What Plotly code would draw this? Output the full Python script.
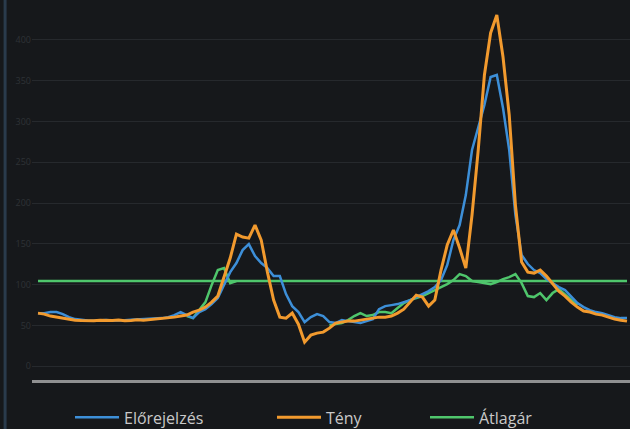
import plotly.graph_objects as go

# quarter-hour slots of the day (96)
slots = list(range(96))

forecast = [65.0, 65.0, 66.3, 66.3, 63.8, 60.1, 57.7, 56.4, 56.0, 55.7,
            56.3, 56.6, 56.0, 55.8, 56.4, 56.9, 57.2, 57.7, 57.7, 57.7,
            58.9, 60.1, 62.6, 66.3, 62.6, 58.9, 66.3, 69.9, 76.1, 83.4,
            99.4, 115.3, 126.4, 142.3, 149.7, 135.0, 126.4, 120.2, 110.4, 110.4,
            88.3, 73.6, 66.3, 54.0, 60.1, 63.8, 61.4, 54.0, 52.8, 56.4,
            55.2, 54.0, 52.8, 55.2, 57.7, 69.9, 73.6, 74.8, 76.1, 78.5,
            81.0, 84.7, 88.3, 92.0, 96.9, 105.5, 123.9, 154.6, 173.0, 209.8,
            265.0, 292.0, 320.2, 354.6, 357.1, 316.6, 265.0, 185.3, 136.2, 125.2,
            117.8, 114.1, 106.7, 101.8, 96.9, 93.3, 84.7, 77.3, 72.4, 68.7,
            66.3, 65.0, 62.6, 60.1, 58.9, 58.9]

actual = [65.0, 63.8, 61.4, 60.1, 58.9, 57.7, 56.4, 56.0, 55.5, 55.8,
          56.2, 55.6, 55.9, 56.5, 55.7, 56.0, 56.8, 56.3, 57.0, 57.4,
          58.0, 58.9, 60.1, 61.4, 62.6, 66.3, 68.7, 72.4, 78.5, 85.9,
          109.2, 132.5, 162.0, 158.3, 157.0, 173.0, 154.6, 115.3, 81.0, 60.1,
          58.9, 65.0, 51.5, 29.4, 38.0, 40.5, 41.7, 46.6, 52.8, 54.0,
          55.2, 55.2, 56.4, 57.7, 58.9, 60.1, 60.1, 61.4, 65.0, 69.9,
          78.5, 87.1, 84.7, 73.6, 81.0, 117.8, 148.5, 166.9, 144.8, 120.2,
          185.3, 265.0, 357.1, 408.6, 430.7, 379.1, 308.0, 197.5, 127.6, 115.3,
          114.1, 117.8, 110.4, 101.8, 92.0, 85.9, 78.5, 72.4, 67.5, 66.3,
          63.8, 62.6, 60.1, 57.7, 56.4, 55.2]

avg_price = 104.3

avg_detail = [None] * 24 + [61.4, 58.9, 68.7, 78.5, 99.4, 117.8, 120.2, 101.8, 104.3] + \
             [None] * 14 + [50.3, 51.5, 52.8, 56.4, 61.4, 65.0, 61.4, 62.6, 66.3, 66.3,
                            65.0, 71.2, 77.3, 81.0, 83.4, 85.9, 89.6, 93.3, 96.9, 100.6,
                            105.5, 112.9, 110.4, 104.3, 103.1, 101.8, 100.6, 103.1, 106.7, 109.2,
                            112.9, 101.8, 85.9, 84.7, 89.6, 81.0, 89.6, 94.5, 88.3, 81.0,
                            74.8] + [None] * 8

y_ticks = [0, 50, 100, 150, 200, 250, 300, 350, 400]

BLUE = "#3d8fd8"
ORANGE = "#f29a2e"
GREEN = "#4fc66c"

fig = go.Figure()
fig.add_trace(go.Scatter(x=slots, y=[avg_price] * len(slots), mode="lines",
                         line=dict(color=GREEN, width=2.5), name="Átlagár",
                         legend="legend3"))
fig.add_trace(go.Scatter(x=slots, y=avg_detail, mode="lines",
                         line=dict(color=GREEN, width=2.5), showlegend=False,
                         legend="legend3"))
fig.add_trace(go.Scatter(x=slots, y=forecast, mode="lines",
                         line=dict(color=BLUE, width=2.5), name="Előrejelzés",
                         legend="legend", showlegend=True))
fig.add_trace(go.Scatter(x=slots, y=actual, mode="lines",
                         line=dict(color=ORANGE, width=3), name="Tény",
                         legend="legend2"))

leg_common = dict(orientation="h", yref="container", yanchor="middle", y=0.027,
                  xref="container", xanchor="left",
                  font=dict(family="Open Sans", size=16, color="#c9c9c9"),
                  bgcolor="rgba(0,0,0,0)", itemwidth=44)
fig.update_layout(
    width=630, height=429,
    showlegend=True,
    margin=dict(l=32, r=0, t=0, b=49, autoexpand=False),
    paper_bgcolor="#16181b", plot_bgcolor="#16181b",
    legend=dict(x=70 / 630, **leg_common),
    legend2=dict(x=272 / 630, **leg_common),
    legend3=dict(x=425 / 630, **leg_common),
    xaxis=dict(range=[-0.97, 95.48], showgrid=False, zeroline=False,
               showticklabels=False, showline=True, linecolor="#8f9091",
               linewidth=3, ticks=""),
    yaxis=dict(range=[-17, 449], tickvals=y_ticks, showgrid=True,
               gridcolor="#26292d", gridwidth=1, zeroline=False,
               tickfont=dict(family="Open Sans", size=9, color="#2e3236"),
               ticks="", showline=False),
    shapes=[dict(type="line", xref="paper", yref="paper",
                 x0=-0.045, x1=-0.045, y0=-0.13, y1=1,
                 line=dict(color="#2a3b4c", width=3))],
)

fig.write_html("out.html", config={"displayModeBar": False},
               post_script="document.body.style.margin='0';document.body.style.background='#16181b';")
